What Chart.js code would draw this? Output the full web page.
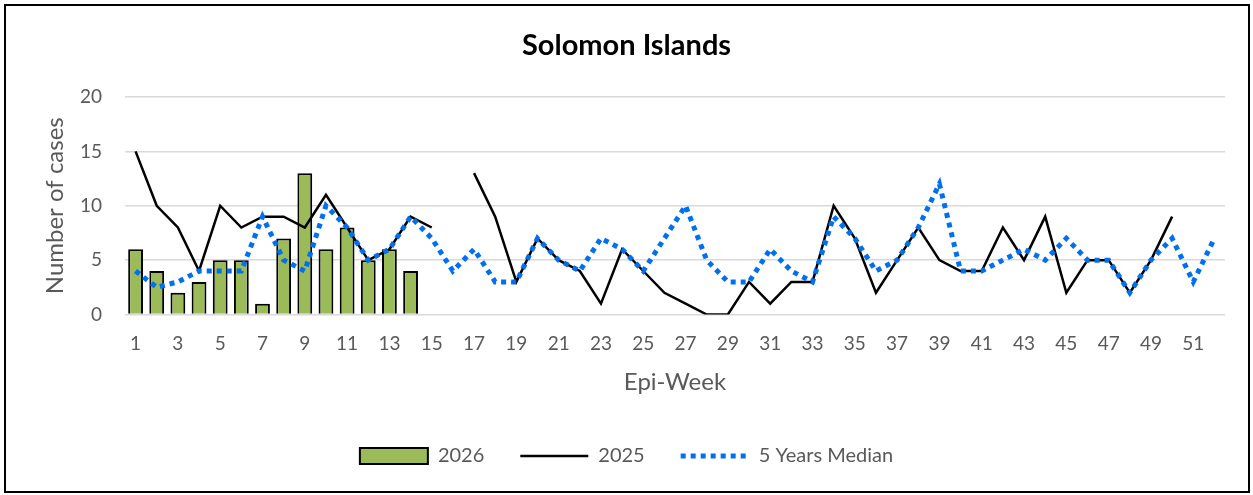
<!DOCTYPE html>
<html>
<head>
<meta charset="utf-8">
<title>Solomon Islands</title>
<script src="https://cdn.jsdelivr.net/npm/chart.js@4.4.1/dist/chart.umd.min.js"></script>
<style>
  html, body { margin: 0; padding: 0; background: #fff; }
  #wrap { position: relative; width: 1253px; height: 495px; }
  #frame { position: absolute; left: 4px; top: 4px; width: 1242px; height: 485px; border: 2px solid #000; pointer-events: none; }
  canvas { position: absolute; left: 0; top: 0; }
</style>
</head>
<body>
<div id="wrap">
  <canvas id="chart" width="1253" height="495"></canvas>
  <div id="frame"></div>
</div>
<script>
// epi weeks on the x axis
const weeks = ['1','2','3','4','5','6','7','8','9','10','11','12','13','14','15','16','17','18','19','20',
  '21','22','23','24','25','26','27','28','29','30','31','32','33','34','35','36','37','38','39','40',
  '41','42','43','44','45','46','47','48','49','50','51','52'];

// 2026 cases so far (bars)
const cases2026 = [6, 4, 2, 3, 5, 5, 1, 7, 13, 6, 8, 5, 6, 4];

// 2025 cases (week 16, 51, 52 missing)
const cases2025 = [15, 10, 8, 4, 10, 8, 9, 9, 8, 11, 8, 5, 6, 9, 8, null, 13, 9, 3, 7,
  5, 4, 1, 6, 4, 2, 1, 0, 0, 3, 1, 3, 3, 10, 7, 2, 5, 8, 5, 4,
  4, 8, 5, 9, 2, 5, 5, 2, 5, 9, null, null];

// 5 year median
const median5y = [4, 2.5, 3, 4, 4, 4, 9, 5, 4, 10, 8, 5, 6, 9, 7, 4, 6, 3, 3, 7,
  5, 4, 7, 6, 4, 7, 10, 5, 3, 3, 6, 4, 3, 9, 7, 4, 5, 8, 12, 4,
  4, 5, 6, 5, 7, 5, 5, 2, 5, 7, 3, 7];

const yTicks = [0, 5, 10, 15, 20];

const barGreen = '#9BBB59';
const medianBlue = '#0070F0';
const greyText = '#595959';
const fontFam = 'Lato, "Open Sans", sans-serif';

const ctx = document.getElementById('chart').getContext('2d');
new Chart(ctx, {
    type: 'bar',
    data: {
        labels: weeks,
        datasets: [{
            label: '2026',
            data: cases2026,
            backgroundColor: barGreen,
            borderColor: '#000',
            borderWidth: 2,
            barPercentage: 0.7,
            categoryPercentage: 1,
            order: 3
        }, {
            type: 'line',
            label: '2025',
            data: cases2025,
            borderColor: '#000',
            borderWidth: 2.5,
            pointRadius: 0,
            tension: 0,
            spanGaps: false,
            order: 2
        }, {
            type: 'line',
            label: '5 Years Median',
            data: median5y,
            borderColor: medianBlue,
            borderWidth: 5,
            borderDash: [5, 5],
            borderCapStyle: 'butt',
            pointRadius: 0,
            tension: 0,
            order: 1
        }]
    },
    options: {
        responsive: false,
        animation: false,
        layout: { padding: { left: 0, right: 0, top: 0, bottom: 19 } },
        plugins: {
            tooltip: { enabled: false },
            title: {
                display: true,
                text: 'Solomon Islands',
                color: '#000',
                font: { family: fontFam, size: 29, weight: 'bold' },
                padding: { top: 28.6, bottom: 33.6 }
            },
            legend: {
                position: 'bottom',
                labels: {
                    usePointStyle: true,
                    pointStyleWidth: 68,
                    boxHeight: 16,
                    padding: 36,
                    color: greyText,
                    font: { family: fontFam, size: 20 },
                    generateLabels: chart => [
                        { text: '2026', fillStyle: barGreen, strokeStyle: '#000', lineWidth: 2, pointStyle: 'rect', fontColor: greyText, datasetIndex: 0 },
                        { text: '2025', fillStyle: 'rgba(0,0,0,0)', strokeStyle: '#000', lineWidth: 2.5, pointStyle: 'line', fontColor: greyText, datasetIndex: 1 },
                        { text: '5 Years Median', fillStyle: 'rgba(0,0,0,0)', strokeStyle: medianBlue, lineWidth: 5, lineDash: [5, 5], pointStyle: 'line', fontColor: greyText, datasetIndex: 2 }
                    ]
                }
            }
        },
        scales: {
            x: {
                grid: { display: false },
                border: { display: false },
                ticks: {
                    autoSkip: false,
                    maxRotation: 0,
                    color: greyText,
                    padding: 10,
                    font: { family: fontFam, size: 19 },
                    callback: (v, i) => (i % 2 === 0 ? weeks[i] : '')
                },
                title: {
                    display: true,
                    text: 'Epi-Week',
                    color: greyText,
                    font: { family: fontFam, size: 24 },
                    padding: { top: 0, bottom: 13.1 }
                },
                afterFit: s => { s.height = 95.5; }
            },
            y: {
                min: 0,
                max: 20,
                afterBuildTicks: s => { s.ticks = yTicks.map(v => ({ value: v })); },
                grid: { color: '#D9D9D9', lineWidth: 1.5, drawTicks: false },
                border: { display: false },
                ticks: {
                    color: greyText,
                    padding: 23,
                    font: { family: fontFam, size: 19 }
                },
                title: {
                    display: true,
                    text: 'Number of cases',
                    color: greyText,
                    font: { family: fontFam, size: 24 },
                    padding: { top: 40.6, bottom: 0 }
                },
                afterFit: s => { s.width = 125; }
            },
            yRight: {
                position: 'right',
                min: 0,
                max: 20,
                grid: { display: false },
                border: { display: false },
                ticks: { display: false },
                afterFit: s => { s.width = 28; }
            }
        }
    }
});
</script>
</body>
</html>
